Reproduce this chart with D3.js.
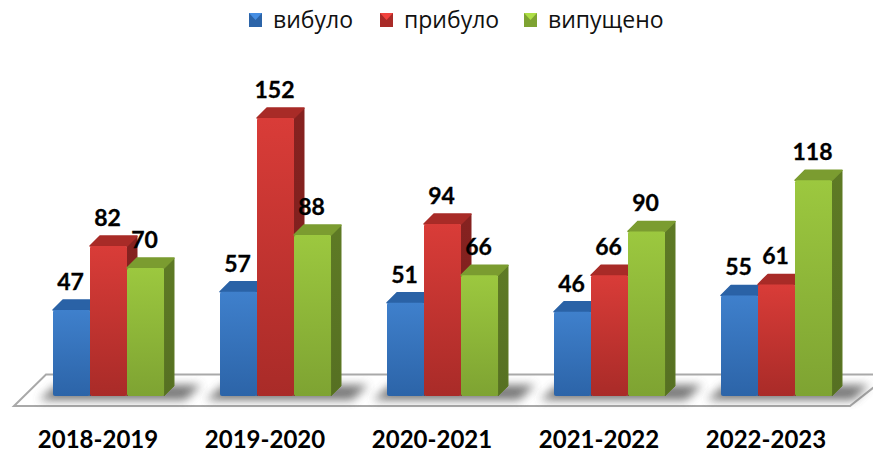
<!DOCTYPE html>
<html>
<head>
<meta charset="utf-8">
<script src="https://cdn.jsdelivr.net/npm/d3@7"></script>
<style>
  html, body { margin: 0; padding: 0; background: #fff; }
  svg { display: block; }
</style>
</head>
<body>
<div id="chart"></div>
<script>
// data
const years = ["2018-2019", "2019-2020", "2020-2021", "2021-2022", "2022-2023"]
const seriesNames = ["вибуло", "прибуло", "випущено"]
const left = [47, 57, 51, 46, 55]
const arrived = [82, 152, 94, 66, 61]
const graduated = [70, 88, 66, 90, 118]
const seriesValues = [left, arrived, graduated]

// colours per series: front top, front bottom, top face, side face
const colors = [
  { hi: "#3f80cc", lo: "#2c64a8", top: "#2a62a6", side: "#234f88" },
  { hi: "#d93c38", lo: "#a92b28", top: "#a82b27", side: "#862220" },
  { hi: "#9cc83f", lo: "#7ea332", top: "#7b9c30", side: "#5e7a25" },
]

const width = 873, height = 455
const baseY = 396
const depth = 10

const svg = d3.select("#chart").append("svg")
    .attr("width", width)
    .attr("height", height)

const defs = svg.append("defs")
defs.append("filter").attr("id", "blur")
    .attr("x", "-30%").attr("y", "-100%").attr("width", "160%").attr("height", "300%")
  .append("feGaussianBlur").attr("stdDeviation", 5)

colors.forEach((c, i) => {
  const g = defs.append("linearGradient").attr("id", "front" + i)
      .attr("x1", 0).attr("x2", 0).attr("y1", 0).attr("y2", 1)
  g.append("stop").attr("offset", "0%").attr("stop-color", c.hi)
  g.append("stop").attr("offset", "100%").attr("stop-color", c.lo)
  const s = defs.append("linearGradient").attr("id", "side" + i)
      .attr("x1", 0).attr("x2", 0).attr("y1", 0).attr("y2", 1)
  s.append("stop").attr("offset", "0%").attr("stop-color", c.side)
  s.append("stop").attr("offset", "100%").attr("stop-color", d3.color(c.side).darker(0.25))
})

// scales
const xScale = d3.scaleBand().domain(years).range([14.5, 849.5]).padding(0)
const innerScale = d3.scaleBand().domain(d3.range(3)).range([38.5, 149.5])
const yScale = d3.scaleLinear().domain([0, 152]).range([baseY, 118])

// floor
const floor = [[14, 406], [46, 374.5], [890, 374.5], [850, 406]]
svg.append("path")
    .attr("d", "M" + floor.join("L") + "Z")
    .attr("fill", "#fff")
    .attr("stroke", "#a9a9a9")
    .attr("stroke-width", 2)

// shadows on the floor
svg.append("g").selectAll("path")
  .data(years)
  .join("path")
    .attr("d", d => {
      const x0 = xScale(d) + 38.5
      return `M${x0 - 14},${baseY + 4}L${x0 + 4},${baseY - 11}L${x0 + 148},${baseY - 11}L${x0 + 132},${baseY + 4}Z`
    })
    .attr("fill", "#555")
    .attr("opacity", 0.8)
    .attr("filter", "url(#blur)")

// bars
const groups = svg.append("g").selectAll("g")
  .data(years)
  .join("g")
    .attr("transform", d => `translate(${xScale(d)},0)`)

groups.each(function(year, yi) {
  const g = d3.select(this)
  seriesValues.forEach((vals, si) => {
    const x0 = innerScale(si)
    const x1 = x0 + innerScale.bandwidth()
    const yTop = yScale(vals[yi])
    // side
    g.append("path")
        .attr("d", `M${x1},${yTop}L${x1 + depth},${yTop - depth}L${x1 + depth},${baseY - depth}L${x1},${baseY}Z`)
        .attr("fill", `url(#side${si})`)
        .attr("stroke", colors[si].side)
        .attr("stroke-width", 1)
        .attr("stroke-linejoin", "round")
    // top
    g.append("path")
        .attr("d", `M${x0},${yTop}L${x0 + depth},${yTop - depth}L${x1 + depth},${yTop - depth}L${x1},${yTop}Z`)
        .attr("fill", colors[si].top)
        .attr("stroke", colors[si].top)
        .attr("stroke-width", 1.5)
        .attr("stroke-linejoin", "round")
    // front
    g.append("rect")
        .attr("x", x0)
        .attr("y", yTop)
        .attr("width", x1 - x0)
        .attr("height", baseY - yTop)
        .attr("rx", 2)
        .attr("fill", `url(#front${si})`)
  })
})

// value labels, above the bars
groups.each(function(year, yi) {
  const g = d3.select(this)
  seriesValues.forEach((vals, si) => {
    g.append("text")
        .attr("x", innerScale(si) + innerScale.bandwidth() / 2 - 1)
        .attr("y", yScale(vals[yi]) - 20)
        .attr("text-anchor", "middle")
        .attr("font-family", "Lato, sans-serif")
        .attr("font-weight", 700)
        .attr("font-size", 23)
        .attr("fill", "#000")
        .attr("stroke", "#000")
        .attr("stroke-width", 0.3)
        .text(vals[yi])
  })
})

// category labels
svg.append("g").selectAll("text")
  .data(years)
  .join("text")
    .attr("x", d => xScale(d) + 83.5)
    .attr("y", 448)
    .attr("text-anchor", "middle")
    .attr("font-family", "Lato, sans-serif")
    .attr("font-weight", 700)
    .attr("font-size", 24)
    .attr("fill", "#000")
    .text(d => d)

// legend
const legendX = [249, 380, 524]
const legend = svg.append("g").selectAll("g")
  .data(seriesNames)
  .join("g")
    .attr("transform", (d, i) => `translate(${legendX[i]},13)`)

legend.append("rect")
    .attr("width", 13).attr("height", 14)
    .attr("fill", (d, i) => colors[i].lo)
legend.append("path")
    .attr("d", "M0,0L13,0L6.5,7Z")
    .attr("fill", (d, i) => d3.color(colors[i].hi).brighter(0.3))
legend.append("text")
    .attr("x", 24)
    .attr("y", 14.5)
    .attr("font-family", "'Open Sans', sans-serif")
    .attr("font-size", 23)
    .attr("fill", "#111")
    .text(d => d)
</script>
</body>
</html>
